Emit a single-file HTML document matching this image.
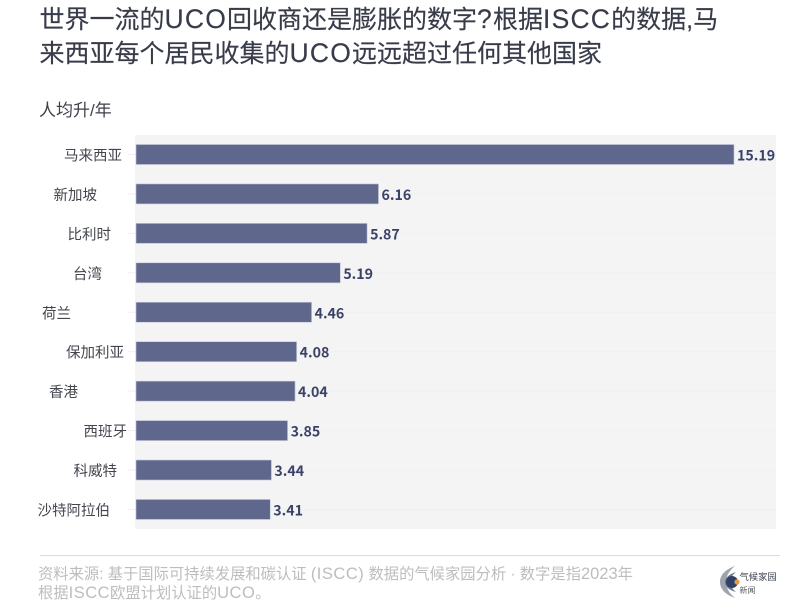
<!DOCTYPE html>
<html lang="zh">
<head>
<meta charset="utf-8">
<style>
html,body{margin:0;padding:0;background:#fff}
#page{position:relative;width:800px;height:612px;overflow:hidden;background:#fff;font-family:"Liberation Sans","Noto Sans CJK SC",sans-serif}
.abs{position:absolute;white-space:nowrap}
#chart{position:absolute;left:0;top:0}
.tl{font-size:26.5px;letter-spacing:1.2px}
.fl{font-size:16.5px;letter-spacing:.5px}
.fd{font-size:16.5px}
</style>
</head>
<body>
<div id="page">
  <div class="abs" style="left:39.5px;top:3px;font-size:25px;line-height:33px;color:#383b49;-webkit-text-stroke:.15px #383b49">世界一流的<span class="tl">UCO</span>回收商还是膨胀的数字<span class="tl">?</span>根据<span class="tl">ISCC</span>的数据,马<br>来西亚每个居民收集的<span class="tl">UCO</span>远远超过任何其他国家</div>
  <div class="abs" style="left:39px;top:99px;font-size:17px;line-height:24px;color:#3f4149">人均升/年</div>
  <svg id="chart" width="800" height="612" xmlns="http://www.w3.org/2000/svg"></svg>
  <div class="abs" style="left:40px;top:555px;width:740px;height:1px;background:#dcdcdf"></div>
  <div class="abs" style="left:38px;top:565px;font-size:15.3px;line-height:19px;color:#bdbdbf">资料来源: 基于国际可持续发展和碳认证 <span class="fl">(ISCC)</span> 数据的气候家园分析 · 数字是指<span class="fd">2023</span>年<br>根据<span class="fl">ISCC</span>欧盟计划认证的<span class="fl">UCO</span>。</div>
  <svg class="abs" style="left:718px;top:565px" width="24" height="34" viewBox="0 0 24 34" xmlns="http://www.w3.org/2000/svg">
    <path d="M17 1 C6 5 2 11 2 17 C2 23 6 29 17 33 C11 28 8 23 8 17 C8 11 11 6 17 1Z" fill="#9ea3ad"/>
    <path d="M18 7 C11 9 7 13 7 17 C7 22 11 25 18 27 C14 24 13 21 13 17 C13 13 14 10 18 7Z" fill="#6d7890"/>
    <circle cx="14" cy="17" r="6" fill="#2f4266"/>
    <circle cx="19" cy="17" r="2.6" fill="#ee9a3a"/>
  </svg>
  <div class="abs" style="left:739.5px;top:570px;font-size:9.3px;line-height:14px;color:#3d4450">气候家园</div>
  <div class="abs" style="left:739.5px;top:584px;font-size:8px;line-height:14px;color:#555a63">新闻</div>
</div>
<script>
const categories = ["马来西亚","新加坡","比利时","台湾","荷兰","保加利亚","香港","西班牙","科威特","沙特阿拉伯"];
const litersPerPerson = [15.19,6.16,5.87,5.19,4.46,4.08,4.04,3.85,3.44,3.41];
const valueLabels = ["15.19","6.16","5.87","5.19","4.46","4.08","4.04","3.85","3.44","3.41"];
const xDomainMax = 15.19;

const layout = {plotLeft:135, plotRight:776, plotTop:135, plotBottom:529, barLeft:136, barFullWidth:598, barHeight:20, firstCenter:154.5, step:39.44};
const labelRightEdges = [122,97,111,102,71,124,78,127,117,110];

const NS = "http://www.w3.org/2000/svg";
const svg = document.getElementById("chart");
function xScale(v){ return layout.barLeft + (v / xDomainMax) * layout.barFullWidth; }
function yScale(i){ return layout.firstCenter + i * layout.step; }
function make(tag, attrs){
  const el = document.createElementNS(NS, tag);
  for (const k in attrs) el.setAttribute(k, attrs[k]);
  svg.appendChild(el);
  return el;
}

const bg = make("rect", {x:layout.plotLeft, y:layout.plotTop, width:layout.plotRight-layout.plotLeft, height:layout.plotBottom-layout.plotTop, fill:"#f4f4f5"});



categories.forEach(function(cat, i){
  const y = yScale(i);
  const grid = make("line", {x1:layout.plotLeft, x2:layout.plotRight, y1:y, y2:y, stroke:"#efeff0", "stroke-width":1});
  
  

  const tick = make("line", {x1:128, x2:layout.plotLeft, y1:y, y2:y, stroke:"#efeff0", "stroke-width":1});
  
  

  const bar = make("rect", {x:layout.barLeft, y:y-layout.barHeight/2, width:xScale(litersPerPerson[i])-layout.barLeft, height:layout.barHeight, fill:"#5f678c", stroke:"#c5c9da", "stroke-width":0.6});
  
  

  const label = make("text", {x:labelRightEdges[i], y:y+6, "text-anchor":"end", "font-size":14.5, fill:"#44464e", "font-family":'"Liberation Sans","Noto Sans CJK SC",sans-serif'});
  label.textContent = cat;
  
  

  const value = make("text", {x:xScale(litersPerPerson[i])+3, y:y+6, "font-size":14.2, "font-weight":"bold", fill:"#3b4268", "font-family":'"Noto Sans CJK SC",sans-serif'});
  value.textContent = valueLabels[i];
  
  
});
</script>
</body>
</html>
